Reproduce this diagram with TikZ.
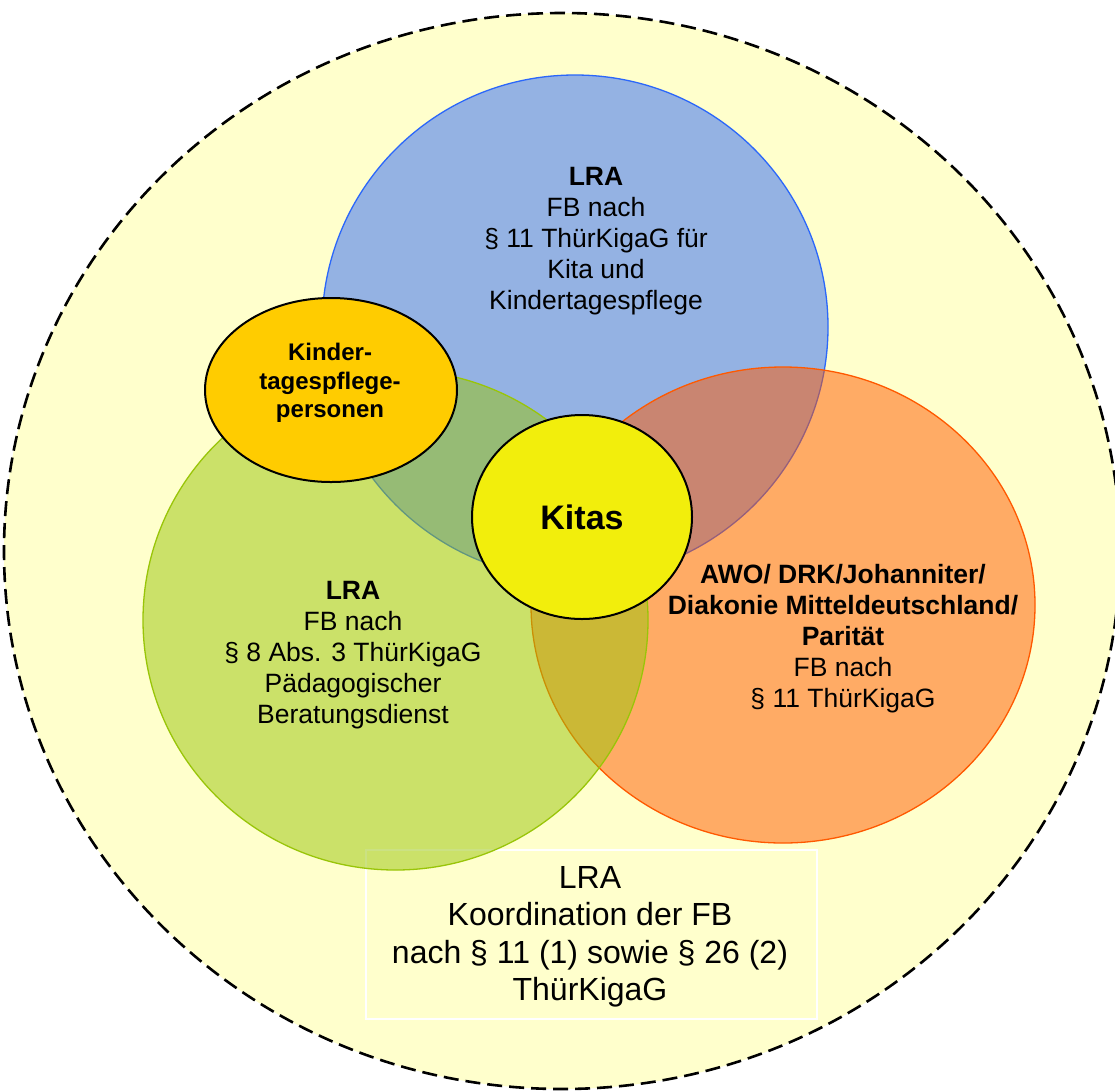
\documentclass[tikz,border=0pt]{standalone}
\usepackage{fontspec}
\setmainfont{Liberation Sans}
\usetikzlibrary{shapes.geometric}
\definecolor{bgyellow}{RGB}{255,255,204}
\definecolor{vblue}{RGB}{43,103,250}
\definecolor{vorange}{RGB}{255,89,0}
\definecolor{vgreen}{RGB}{153,197,8}
\definecolor{kindercol}{RGB}{255,204,0}
\definecolor{kitacol}{RGB}{242,238,12}
\begin{document}
\begin{tikzpicture}[x=1pt,y=-1pt,
  txt/.style={align=center, text=black, inner sep=0pt},
  body/.style={font=\fontsize{26.5}{31}\selectfont},
  vennshape/.style={ellipse, inner sep=0pt, line width=1.3pt, fill opacity=0.5, draw opacity=1},
  solidshape/.style={ellipse, inner sep=0pt, draw=black, line width=2pt}]
\useasboundingbox (0,0) rectangle (1115,1090);
\clip (0,0) rectangle (1115,1090);
\fill[white] (0,0) rectangle (1115,1090);
% outer dashed region
\node[ellipse, inner sep=0pt, fill=bgyellow, draw=black, line width=2.6pt,
      dash pattern=on 15pt off 7pt, minimum width=1116pt, minimum height=1076pt] (outer) at (562,551) {};
% coordination box
\node[draw=white, line width=1.3pt, minimum width=451pt, minimum height=169pt, inner sep=0pt] (box) at (591.5,934.5) {};
% Venn circles
\node[vennshape, draw=vblue, fill=vblue, minimum width=506pt, minimum height=504pt] (blue) at (575,327) {};
\node[vennshape, draw=vorange, fill=vorange, minimum width=504pt, minimum height=476pt] (orange) at (783,605) {};
\node[vennshape, draw=vgreen, fill=vgreen, minimum width=505pt, minimum height=500pt] (green) at (395.5,620) {};
% solid ellipses
\node[solidshape, fill=kindercol, minimum width=252pt, minimum height=184pt] (kinder) at (331,390) {};
\node[solidshape, fill=kitacol, minimum width=220pt, minimum height=204pt] (kitas) at (582,517) {};
% texts
\node[txt, body] (bluetext) at (596,241) {\textbf{LRA}\\FB nach\\§ 11 ThürKigaG für\\Kita und\\Kindertagespflege};
\node[txt, body] (greentext) at (353,655) {\textbf{LRA}\\FB nach\\§ 8 Abs. 3 ThürKigaG\\Pädagogischer\\Beratungsdienst};
\node[txt, body] (orangetext) at (843,639) {\textbf{AWO/ DRK/Johanniter/}\\\textbf{Diakonie Mitteldeutschland/}\\\textbf{Parität}\\FB nach\\§ 11 ThürKigaG};
\node[txt, font=\fontsize{24}{28.5}\selectfont\bfseries] (kindertext) at (330,383) {Kinder-\\tagespflege-\\personen};
\node[txt, font=\fontsize{34}{40}\selectfont\bfseries] (kitastext) at (582,517) {Kitas};
\node[txt, font=\fontsize{32}{37.5}\selectfont] (boxtext) at (590,937) {LRA\\Koordination der FB\\nach § 11 (1) sowie § 26 (2)\\ThürKigaG};
\end{tikzpicture}
\end{document}
